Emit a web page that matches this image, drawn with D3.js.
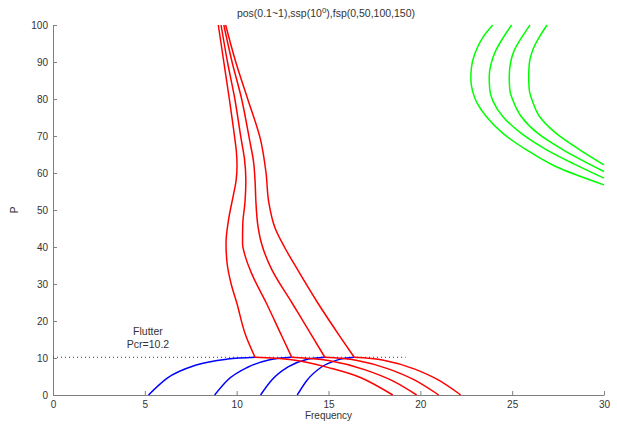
<!DOCTYPE html>
<html>
<head>
<meta charset="utf-8">
<script src="https://cdn.jsdelivr.net/npm/d3@7"></script>
<style>
  body { margin: 0; background: #fff; }
  text { font-family: "Liberation Sans", Arial, sans-serif; }
</style>
</head>
<body>
<div id="chart"></div>
<script>
(function (d3) {
  'use strict';

  const width = 617;
  const height = 427;
  const margin = {top: 25, right: 13, bottom: 32, left: 53};

  // [frequency, P], one array per curve
  // red: branch above the flutter point
  const redUpper = [
    [[9.0, 100], [9.3, 90], [9.6, 80], [9.88, 70], [9.98, 66], [10.02, 62], [9.97, 58], [9.82, 54], [9.58, 48], [9.42, 41], [9.47, 36], [9.7, 30], [10.0, 25], [10.5, 16], [11.0, 10.2]],
    [[9.15, 100], [9.5, 90], [9.9, 80], [10.25, 69], [10.42, 64], [10.5, 58], [10.45, 52], [10.33, 46], [10.32, 41], [10.5, 37], [10.8, 33], [11.6, 25], [12.45, 16], [13.0, 10.2]],
    [[9.3, 100], [9.75, 90], [10.27, 80], [10.7, 69], [10.92, 63], [11.0, 58], [11.05, 52], [11.15, 46], [11.35, 41], [11.9, 34], [13.0, 25], [14.1, 16], [14.8, 10.2]],
    [[9.4, 100], [9.95, 90], [10.6, 80], [11.3, 69], [11.6, 60], [11.75, 52], [12.1, 45], [12.6, 40], [13.3, 34], [14.4, 25], [15.6, 16], [16.4, 10.2]]
  ];
  // red: second mode below the flutter point
  const redLower = [
    [[11.0, 10.2], [13.0, 9.5], [15.0, 7.4], [16.8, 4.6], [18.5, 0]],
    [[13.0, 10.2], [15.0, 9.3], [17.0, 6.8], [18.5, 3.8], [19.8, 0]],
    [[14.8, 10.2], [16.5, 9.4], [18.3, 7.0], [19.7, 4.0], [21.0, 0]],
    [[16.4, 10.2], [18.0, 9.4], [19.7, 7.0], [21.0, 4.0], [22.2, 0]]
  ];
  // blue: first mode
  const blueLower = [
    [[5.2, 0], [6.2, 4.5], [7.8, 8.1], [9.5, 9.7], [11.0, 10.2]],
    [[8.8, 0], [9.5, 4.0], [10.6, 7.5], [11.8, 9.5], [13.0, 10.2]],
    [[11.3, 0], [11.9, 4.0], [12.8, 7.6], [13.8, 9.6], [14.8, 10.2]],
    [[13.3, 0], [13.8, 3.8], [14.6, 7.5], [15.5, 9.5], [16.4, 10.2]]
  ];
  // green: upper branch on the right
  const greenUpper = [
    [[23.94, 100], [23.42, 96.8], [22.97, 92.3], [22.78, 88.5], [22.75, 85.5], [22.85, 82], [23.1, 78.8], [23.6, 75.2], [24.5, 70.7], [25.8, 66.2], [27.4, 61.7], [30.0, 56.8]],
    [[24.97, 100], [24.5, 96.5], [24.1, 93], [23.85, 89.5], [23.75, 86], [23.78, 82.5], [23.95, 79.5], [24.5, 75.2], [25.5, 70.7], [26.9, 66.2], [28.3, 62.6], [30.0, 58.6]],
    [[25.97, 100], [25.5, 96.5], [25.1, 93], [24.9, 89.5], [24.84, 86], [24.87, 82.5], [25.05, 79.5], [25.5, 75.2], [26.4, 70.7], [27.8, 66.2], [30.0, 60.4]],
    [[26.9, 100], [26.45, 96.5], [26.1, 93], [25.93, 89.5], [25.9, 86], [25.93, 82.5], [26.1, 79.5], [26.5, 75.2], [27.4, 70.7], [28.7, 66.2], [30.0, 62.2]]
  ];

  const xTicks = [0, 5, 10, 15, 20, 25, 30];
  const yTicks = [0, 10, 20, 30, 40, 50, 60, 70, 80, 90, 100];
  const pcr = 10.2;
  const pcrLineEnd = 19.2;
  const flutterLabel = ["Flutter", "Pcr=10.2"];

  const x = d3.scaleLinear().domain([0, 30]).range([margin.left, width - margin.right]);
  const y = d3.scaleLinear().domain([0, 100]).range([height - margin.bottom, margin.top]);

  const svg = d3.select("#chart").append("svg")
    .attr("width", width)
    .attr("height", height)
    .style("background", "#fff");

  // curves running down in P use monotoneY, the ones running along frequency monotoneX
  const lineY = d3.line()
    .curve(d3.curveMonotoneY)
    .x(function(d) { return x(d[0]); })
    .y(function(d) { return y(d[1]); });
  const lineX = d3.line()
    .curve(d3.curveMonotoneX)
    .x(function(d) { return x(d[0]); })
    .y(function(d) { return y(d[1]); });

  // axes, ticks point inward like matlab
  const xAxis = svg.append("g")
    .attr("transform", "translate(0," + y(0) + ")")
    .call(d3.axisBottom(x).tickValues(xTicks).tickSizeInner(-4).tickSizeOuter(0).tickPadding(6));
  const yAxis = svg.append("g")
    .attr("transform", "translate(" + x(0) + ",0)")
    .call(d3.axisLeft(y).tickValues(yTicks).tickSizeInner(-4).tickSizeOuter(0).tickPadding(5));

  [xAxis, yAxis].forEach(function(g) {
    g.select(".domain").attr("stroke", "#808080");
    g.selectAll(".tick line").attr("stroke", "#808080");
    g.selectAll(".tick text")
      .style("font-size", "10px")
      .attr("fill", "#333");
  });

  // flutter line
  svg.append("line")
    .attr("x1", x(0))
    .attr("x2", x(pcrLineEnd))
    .attr("y1", y(pcr))
    .attr("y2", y(pcr))
    .attr("stroke", "#333")
    .attr("stroke-width", 1)
    .attr("stroke-dasharray", "1,3");

  const groups = [
    {data: blueLower, color: "#0000ff", line: lineX},
    {data: redLower, color: "#ff0000", line: lineX},
    {data: redUpper, color: "#ff0000", line: lineY},
    {data: greenUpper, color: "#00ff00", line: lineY}
  ];

  groups.forEach(function(gr) {
    svg.append("g").selectAll("path")
      .data(gr.data)
      .enter()
      .append("path")
      .attr("d", gr.line)
      .attr("fill", "none")
      .attr("stroke", gr.color)
      .attr("stroke-width", 1.5);
  });

  // title
  const title = svg.append("text")
    .attr("x", 326)
    .attr("y", 17)
    .attr("text-anchor", "middle")
    .style("font-size", "10.5px")
    .attr("fill", "#333");
  title.append("tspan").text("pos(0.1~1),ssp(10");
  title.append("tspan").attr("dy", -4).style("font-size", "8px").text("0");
  title.append("tspan").attr("dy", 4).text("),fsp(0,50,100,150)");

  // axis labels
  svg.append("text")
    .attr("x", x(15))
    .attr("y", 419)
    .attr("text-anchor", "middle")
    .style("font-size", "10px")
    .attr("fill", "#333")
    .text("Frequency");

  svg.append("text")
    .attr("transform", "translate(18," + y(50) + ") rotate(-90)")
    .attr("text-anchor", "middle")
    .style("font-size", "10px")
    .attr("fill", "#333")
    .text("P");

  // flutter annotation
  svg.append("g").selectAll("text")
    .data(flutterLabel)
    .enter()
    .append("text")
    .attr("x", 148)
    .attr("y", function(d, i) { return 335 + i * 13; })
    .attr("text-anchor", "middle")
    .style("font-size", "10.5px")
    .attr("fill", "#333")
    .text(function(d) { return d; });

}(d3));
</script>
</body>
</html>
